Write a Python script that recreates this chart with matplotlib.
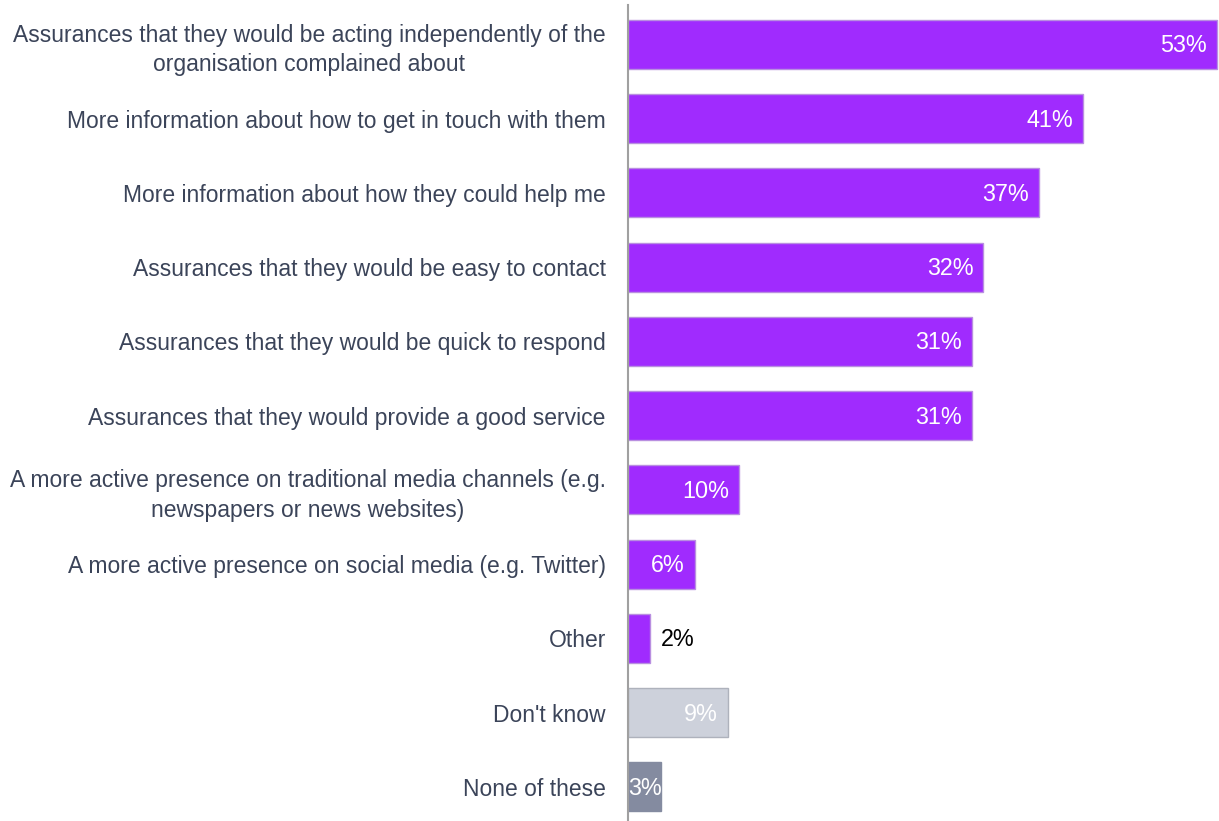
import matplotlib.pyplot as plt

# Survey answers, top to bottom
labels = [
    "Assurances that they would be acting independently of the\norganisation complained about",
    "More information about how to get in touch with them",
    "More information about how they could help me",
    "Assurances that they would be easy to contact",
    "Assurances that they would be quick to respond",
    "Assurances that they would provide a good service",
    "A more active presence on traditional media channels (e.g.\nnewspapers or news websites)",
    "A more active presence on social media (e.g. Twitter)",
    "Other",
    "Don't know",
    "None of these",
]
values = [53, 41, 37, 32, 31, 31, 10, 6, 2, 9, 3]

purple = "#A02BFE"
bar_colors = [purple] * 9 + ["#CDD1DB", "#848BA0"]
edge_colors = ["#B98FE0"] * 9 + ["#AEB2BC", "#848BA0"]
text_dark = "#3B4459"
font = ["Liberation Sans", "DejaVu Sans"]
fs = 16.5

fig = plt.figure(figsize=(12.19, 8.21), dpi=100)
ax = fig.add_axes([628 / 1219, 0, 1 - 628 / 1219, 1 - 5 / 821])

pos = list(range(len(values)))
ax.barh(pos, values, height=0.66, color=bar_colors, edgecolor=edge_colors, linewidth=1)

ax.set_xlim(0, 53.2)
ax.set_ylim(10.46, -0.53)

# value labels: inside the bar at its right end, except the tiny "Other" bar
for i, v in enumerate(values):
    txt = f"{v}%"
    if v == 2:
        ax.text(v + 1.0, i + 0.02, txt, va="center", ha="left", color="black",
                fontsize=fs + 0.3, family=font)
    elif v == 3:
        ax.text(0.05, i + 0.02, txt, va="center", ha="left", color="white",
                fontsize=fs + 0.3, family=font)
    else:
        ax.text(v - 0.9, i + 0.02, txt, va="center", ha="right", color="white",
                fontsize=fs + 0.3, family=font)

ax.set_yticks(pos)
ax.set_yticklabels(labels, fontsize=fs, color=text_dark, family=font,
                   multialignment="center", linespacing=1.35)
ax.tick_params(axis="y", length=0, pad=16)
ax.set_xticks([])

for side in ["top", "right", "bottom"]:
    ax.spines[side].set_visible(False)
ax.spines["left"].set_color("#A0A0A0")
ax.spines["left"].set_linewidth(1.5)

fig.savefig("out.png", dpi=100)
